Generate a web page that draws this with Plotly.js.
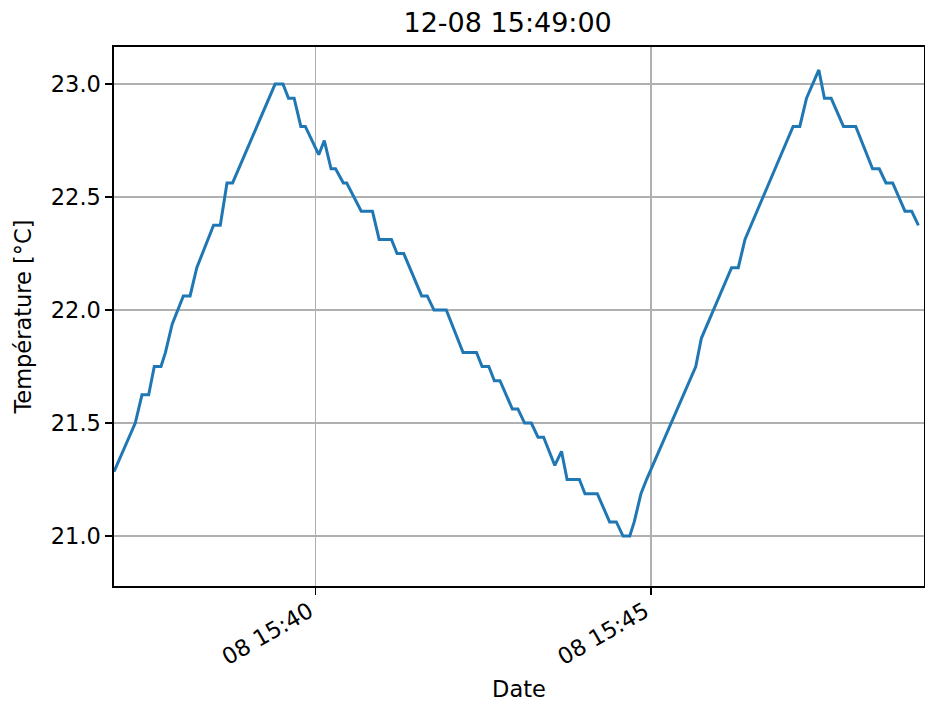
<!DOCTYPE html>
<html>
<head>
<meta charset="utf-8">
<script src="https://cdn.plot.ly/plotly-3.0.1.min.js"></script>
<style>html,body{margin:0;padding:0;background:#fff;}#chart{width:925px;height:702px;}</style>
</head>
<body>
<div id="chart"></div>
<script>
const times = [
  "2019-12-08 15:37:00","2019-12-08 15:37:19","2019-12-08 15:37:25","2019-12-08 15:37:31",
  "2019-12-08 15:37:36","2019-12-08 15:37:42","2019-12-08 15:37:46","2019-12-08 15:37:52",
  "2019-12-08 15:38:02","2019-12-08 15:38:08","2019-12-08 15:38:14","2019-12-08 15:38:29",
  "2019-12-08 15:38:35","2019-12-08 15:38:41","2019-12-08 15:38:46","2019-12-08 15:39:24",
  "2019-12-08 15:39:31","2019-12-08 15:39:36","2019-12-08 15:39:41","2019-12-08 15:39:47",
  "2019-12-08 15:39:51","2019-12-08 15:40:03","2019-12-08 15:40:08","2019-12-08 15:40:14",
  "2019-12-08 15:40:18","2019-12-08 15:40:25","2019-12-08 15:40:28","2019-12-08 15:40:41",
  "2019-12-08 15:40:51","2019-12-08 15:40:57","2019-12-08 15:41:08","2019-12-08 15:41:13",
  "2019-12-08 15:41:19","2019-12-08 15:41:35","2019-12-08 15:41:40","2019-12-08 15:41:46",
  "2019-12-08 15:41:57","2019-12-08 15:42:12","2019-12-08 15:42:24","2019-12-08 15:42:29",
  "2019-12-08 15:42:35","2019-12-08 15:42:40","2019-12-08 15:42:45","2019-12-08 15:42:56",
  "2019-12-08 15:43:01","2019-12-08 15:43:07","2019-12-08 15:43:13","2019-12-08 15:43:19",
  "2019-12-08 15:43:24","2019-12-08 15:43:34","2019-12-08 15:43:40","2019-12-08 15:43:45",
  "2019-12-08 15:43:56","2019-12-08 15:44:01","2019-12-08 15:44:12","2019-12-08 15:44:23",
  "2019-12-08 15:44:29","2019-12-08 15:44:35","2019-12-08 15:44:41","2019-12-08 15:44:45",
  "2019-12-08 15:44:51","2019-12-08 15:44:56","2019-12-08 15:45:40","2019-12-08 15:45:45",
  "2019-12-08 15:46:12","2019-12-08 15:46:18","2019-12-08 15:46:24","2019-12-08 15:47:07",
  "2019-12-08 15:47:13","2019-12-08 15:47:19","2019-12-08 15:47:30","2019-12-08 15:47:35",
  "2019-12-08 15:47:41","2019-12-08 15:47:52","2019-12-08 15:48:03","2019-12-08 15:48:18",
  "2019-12-08 15:48:24","2019-12-08 15:48:30","2019-12-08 15:48:36","2019-12-08 15:48:47",
  "2019-12-08 15:48:53","2019-12-08 15:48:59"
];
const temperatures = [
  21.285,21.5,21.625,21.625,
  21.75,21.75,21.8125,21.9375,
  22.0625,22.0625,22.1875,22.375,
  22.375,22.5625,22.5625,23.0,
  23.0,22.9375,22.9375,22.8125,
  22.8125,22.6875,22.75,22.625,
  22.625,22.5625,22.5625,22.4375,
  22.4375,22.3125,22.3125,22.25,
  22.25,22.0625,22.0625,22.0,
  22.0,21.8125,21.8125,21.75,
  21.75,21.6875,21.6875,21.5625,
  21.5625,21.5,21.5,21.4375,
  21.4375,21.3125,21.375,21.25,
  21.25,21.1875,21.1875,21.0625,
  21.0625,21.0,21.0,21.0625,
  21.1875,21.25,21.75,21.875,
  22.1875,22.1875,22.3125,22.8125,
  22.8125,22.9375,23.0625,22.9375,
  22.9375,22.8125,22.8125,22.625,
  22.625,22.5625,22.5625,22.4375,
  22.4375,22.375
];
const titleText = "12-08 15:49:00";
const xLabel = "Date";
const yLabel = "Température [°C]";
const yTicks = [21.0, 21.5, 22.0, 22.5, 23.0];

const font = "DejaVu Sans, sans-serif";
const fs = 22.5;
const trace = {
  x: times, y: temperatures, type: "scatter", mode: "lines",
  line: {color: "#1f77b4", width: 3}, hoverinfo: "skip"
};
const layout = {
  width: 925, height: 702,
  margin: {l: 114, r: 1, t: 47, b: 116, pad: 0},
  paper_bgcolor: "#fff", plot_bgcolor: "#fff",
  font: {family: font, color: "#000", size: fs},
  showlegend: false,
  title: {text: titleText, font: {family: font, size: 27, color: "#000"},
          x: 0.486, xref: "paper", xanchor: "center", y: 0.968, yref: "container", yanchor: "middle"},
  xaxis: {
    type: "date",
    range: ["2019-12-08 15:37:00", "2019-12-08 15:49:04"],
    tickmode: "linear", tick0: "2019-12-08 15:40:00", dtick: 300000,
    tickformat: "%d %H:%M", tickangle: -30,
    ticklabelshift: -6, ticklabelstandoff: -5,
    ticks: "outside", ticklen: 7, tickwidth: 1.2, tickcolor: "#000",
    showline: true, linecolor: "#000", linewidth: 1.6, mirror: true,
    showgrid: true, gridcolor: "#b0b0b0", gridwidth: 1.3,
    zeroline: false,
    tickfont: {family: font, size: fs, color: "#000"},
    title: {text: xLabel, font: {family: font, size: fs, color: "#000"}, standoff: 12},
    automargin: false
  },
  yaxis: {
    range: [20.779, 23.164],
    tickmode: "array", tickvals: yTicks, ticktext: yTicks.map(v => v.toFixed(1)),
    ticks: "outside", ticklen: 7, tickwidth: 1.2, tickcolor: "#000",
    showline: true, linecolor: "#000", linewidth: 1.6, mirror: true,
    showgrid: true, gridcolor: "#b0b0b0", gridwidth: 1.3,
    zeroline: false,
    tickfont: {family: font, size: fs, color: "#000"},
    title: {text: yLabel, font: {family: font, size: fs, color: "#000"}, standoff: 13},
    automargin: false
  }
};
Plotly.newPlot("chart", [trace], layout, {staticPlot: true, displayModeBar: false});
</script>
</body>
</html>
